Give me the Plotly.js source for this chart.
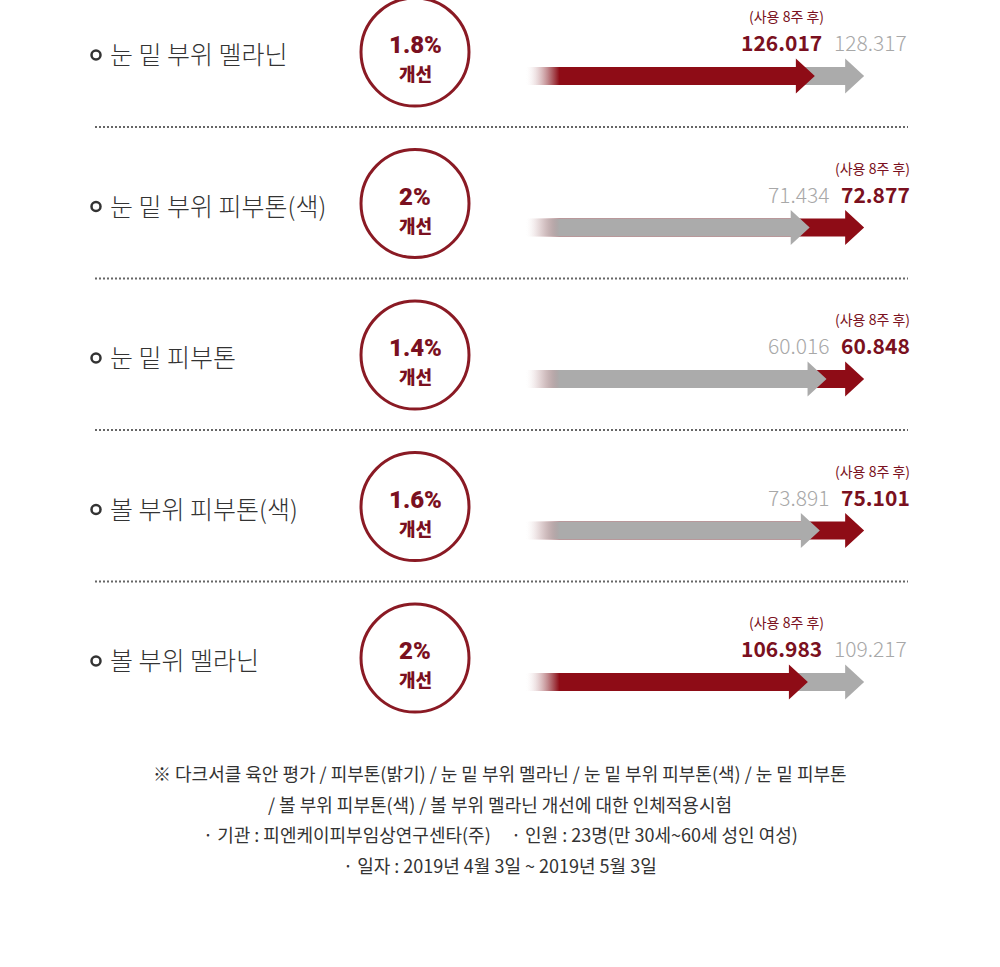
<!DOCTYPE html>
<html>
<head>
<meta charset="utf-8">
<script src="https://cdn.plot.ly/plotly-3.0.1.min.js"></script>
<style>html,body{margin:0;padding:0;background:#fff;}#chart{width:1000px;height:967px;}</style>
</head>
<body>
<div id="chart"></div>
<script>
// ---- data ----
const categories = ['눈 밑 부위 멜라닌', '눈 밑 부위 피부톤(색)', '눈 밑 피부톤', '볼 부위 피부톤(색)', '볼 부위 멜라닌'];
const beforeValues = [128.317, 71.434, 60.016, 73.891, 109.217];
const afterValues = [126.017, 72.877, 60.848, 75.101, 106.983];
const improvementLabels = ['1.8%', '2%', '1.4%', '1.6%', '2%'];
const afterTag = '(사용 8주 후)';
const improveWord = '개선';
const footnoteLines = [
  '※ 다크서클 육안 평가 / 피부톤(밝기) / 눈 밑 부위 멜라닌 / 눈 밑 부위 피부톤(색) / 눈 밑 피부톤',
  '/ 볼 부위 피부톤(색) / 볼 부위 멜라닌 개선에 대한 인체적용시험',
  '· 기관 : 피엔케이피부임상연구센타(주) &nbsp;&nbsp;&nbsp;&nbsp;· 인원 : 23명(만 30세~60세 성인 여성)',
  '· 일자 : 2019년 4월 3일 ~ 2019년 5월 3일'
];

// ---- style ----
const RED = '#8e0c16';
const RED_TEXT = '#7a1020';
const GRAY = '#ababab';
const GRAY_TEXT = '#a8a8a8';
const FONT = '"Noto Sans CJK KR", "Noto Sans", sans-serif';
const ARROW_START = 87.67;
const FADE = 1.25;
const HEAD_LEN = 0.69;
const SHAFT_HALF = 0.0594;
const HEAD_HALF = 0.115;

function arrowTrace(tip, yc, color) {
  const b = tip - HEAD_LEN;
  return {
    type: 'scatter', mode: 'lines', fill: 'toself', hoverinfo: 'skip',
    x: [ARROW_START, b, b, tip, b, b, ARROW_START, ARROW_START],
    y: [yc - SHAFT_HALF, yc - SHAFT_HALF, yc - HEAD_HALF, yc, yc + HEAD_HALF, yc + SHAFT_HALF, yc + SHAFT_HALF, yc - SHAFT_HALF],
    line: {width: 0, color: color},
    fillgradient: {
      type: 'horizontal', start: ARROW_START, stop: ARROW_START + FADE,
      colorscale: [[0, 'rgba(255,255,255,0)'], [1, color]]
    }
  };
}

const traces = [];
const annotations = [];
const shapes = [];

categories.forEach((cat, i) => {
  const mx = Math.max(beforeValues[i], afterValues[i]);
  const bx = beforeValues[i] / mx * 100;
  const ax = afterValues[i] / mx * 100;
  const redLonger = afterValues[i] > beforeValues[i];
  // longer arrow first (behind), shorter on top
  if (redLonger) {
    traces.push(arrowTrace(ax, i, RED));
    traces.push(arrowTrace(bx, i, GRAY));
  } else {
    traces.push(arrowTrace(bx, i, GRAY));
    traces.push(arrowTrace(ax, i, RED));
  }
  // after value (red) with tag above
  annotations.push({
    xref: 'x', yref: 'y', x: 100, y: i, showarrow: false,
    text: '<b>' + afterValues[i].toFixed(3) + '</b>',
    xanchor: redLonger ? 'left' : 'right',
    xshift: redLonger ? -25 : -40,
    yanchor: 'middle', yshift: 34,
    font: {family: FONT, size: 21, color: RED_TEXT}
  });
  annotations.push({
    xref: 'x', yref: 'y', x: 100, y: i, showarrow: false,
    text: afterTag,
    xanchor: redLonger ? 'left' : 'right',
    xshift: redLonger ? -31 : -38,
    yanchor: 'middle', yshift: 60,
    font: {family: FONT, size: 14, color: RED_TEXT}
  });
  // before value (gray)
  annotations.push({
    xref: 'x', yref: 'y', x: 100, y: i, showarrow: false,
    text: beforeValues[i].toFixed(3),
    xanchor: redLonger ? 'right' : 'left',
    xshift: redLonger ? -33 : -32,
    yanchor: 'middle', yshift: 34,
    font: {family: FONT, size: 21, color: GRAY_TEXT, weight: 300}
  });
  // category label
  annotations.push({
    xref: 'paper', yref: 'y', x: 0.108, y: i, showarrow: false,
    text: cat, xanchor: 'left', yanchor: 'middle', yshift: 23,
    font: {family: FONT, size: 25, color: '#333333', weight: 300}
  });
  // circle texts
  annotations.push({
    xref: 'paper', yref: 'y', x: 0.415, y: i, showarrow: false,
    text: improvementLabels[i], borderpad: 0,
    xanchor: 'center', yanchor: 'middle', yshift: 31,
    font: {family: 'Roboto, "Noto Sans", sans-serif', size: 24, color: RED_TEXT, weight: 900}
  });
  annotations.push({
    xref: 'paper', yref: 'y', x: 0.415, y: i, showarrow: false,
    text: improveWord, borderpad: 0,
    xanchor: 'center', yanchor: 'middle', yshift: 3,
    font: {family: FONT, size: 18, color: RED_TEXT, weight: 900}
  });
  // circle
  shapes.push({
    type: 'circle', xref: 'paper', yref: 'y', xsizemode: 'pixel', ysizemode: 'pixel',
    xanchor: 0.415, yanchor: i, x0: -54, x1: 54, y0: 24 - 54, y1: 24 + 54,
    line: {color: '#8a1a24', width: 3}, fillcolor: 'rgba(0,0,0,0)'
  });
  // bullet ring
  shapes.push({
    type: 'circle', xref: 'paper', yref: 'y', xsizemode: 'pixel', ysizemode: 'pixel',
    xanchor: 0.096, yanchor: i, x0: -4.5, x1: 4.5, y0: 21 - 4.5, y1: 21 + 4.5,
    line: {color: '#333333', width: 2.5}, fillcolor: 'rgba(0,0,0,0)'
  });
  // dotted separator
  if (i < categories.length - 1) {
    shapes.push({
      type: 'line', xref: 'paper', yref: 'y', ysizemode: 'pixel', yanchor: i,
      x0: 0.095, x1: 0.908, y0: -51, y1: -51,
      line: {color: '#666666', width: 2, dash: '2px,2px'}
    });
  }
});

footnoteLines.forEach((t, k) => {
  annotations.push({
    xref: 'paper', yref: 'paper', x: 0.5, y: 1 - (773 + k * 30.5) / 967,
    showarrow: false, text: t, xanchor: 'center', yanchor: 'middle',
    font: {family: FONT, size: 18, color: '#333333'}
  });
});

const layout = {
  width: 1000, height: 967,
  margin: {l: 0, r: 0, t: 0, b: 0},
  paper_bgcolor: '#ffffff', plot_bgcolor: '#ffffff',
  showlegend: false,
  xaxis: {range: [68.58, 104.94], visible: false, fixedrange: true},
  yaxis: {range: [5.881, -0.5017], visible: false, fixedrange: true},
  annotations: annotations,
  shapes: shapes
};

Plotly.newPlot('chart', traces, layout, {displayModeBar: false, staticPlot: true});
</script>
</body>
</html>
